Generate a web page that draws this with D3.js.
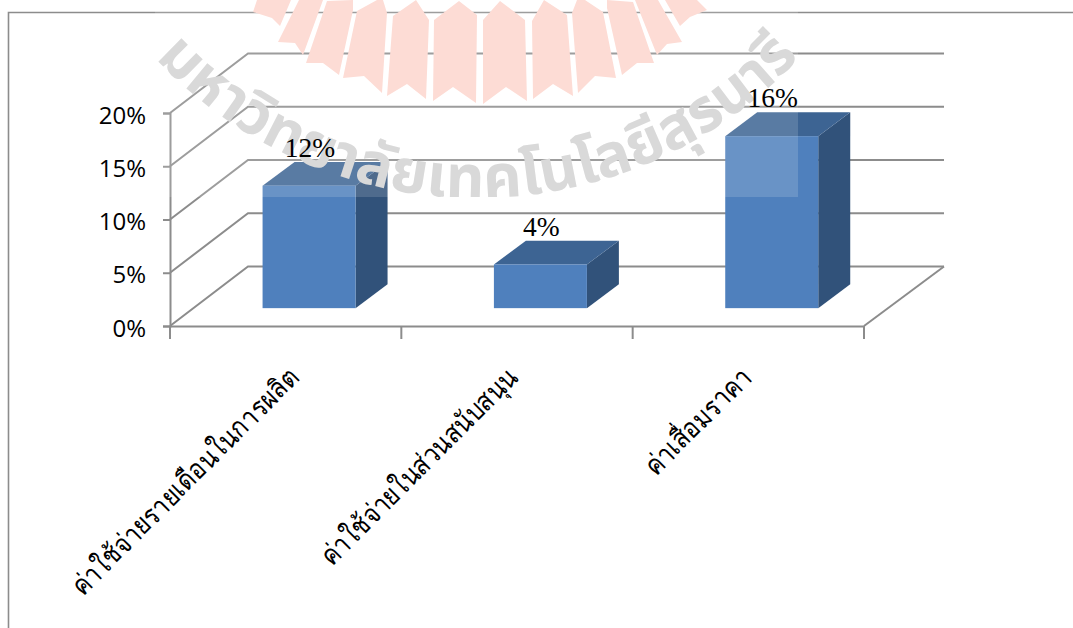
<!DOCTYPE html>
<html><head><meta charset="utf-8">
<script src="https://cdn.jsdelivr.net/npm/d3@7"></script>
<style>html,body{margin:0;padding:0;background:#fff;overflow:hidden}svg{display:block}</style>
</head><body><svg id="c" width="1073" height="628"></svg>
<script>
const categories = ["ค่าใช้จ่ายรายเดือนในการผลิต","ค่าใช้จ่ายในส่วนสนับสนุน","ค่าเสื่อมราคา"];
const values = [0.115, 0.041, 0.1615];
const valueLabels = ["12%","4%","16%"];
const yTicks = [0,0.05,0.10,0.15,0.20];
const watermarkText = "มหาวิทยาลัยเทคโนโลยีสุรนารี";

const W=1073,H=628, gray="#8c8c8c";
const svg=d3.select("#c");
const x=d3.scaleBand().domain(categories).range([170,864]).paddingInner(0).paddingOuter(0);
const y=d3.scaleLinear().domain([0,0.2]).range([326,113]);
const DX=78, DY=-59.5;           // wall depth
const barDepth=0.3, barDepthEnd=0.7;

// frame
svg.append("path").attr("d",`M8.5,628V12.5H${W}`).attr("fill","none").attr("stroke",gray).attr("stroke-width",1.6);

// grid: floor / side wall / back wall
const grid=svg.append("g").attr("fill","none").attr("stroke",gray).attr("stroke-width",2);
grid.selectAll("path").data(yTicks).join("path")
  .attr("d",t=>`M170,${y(t)}L${170+DX},${y(t)+DY}H944`);
grid.append("path").attr("d",`M864,326L944,${326+DY}`);

// axes
const gy=svg.append("g").attr("transform","translate(170,0)")
  .call(d3.axisLeft(y).tickValues(yTicks).tickFormat(d3.format(".0%")).tickSize(7).tickPadding(17));
const gx=svg.append("g").attr("transform","translate(0,326)")
  .call(d3.axisBottom(x).tickSize(0).tickFormat(""));
gx.selectAll(".tick").remove();
gx.selectAll(".ct").data([...categories.map(c=>x(c)),864]).join("line").attr("class","ct")
  .attr("x1",d=>d).attr("x2",d=>d).attr("y1",0).attr("y2",13);
svg.selectAll(".domain,.tick line,.ct").attr("stroke",gray).attr("stroke-width",2);
gy.selectAll("text").attr("fill","#000").attr("dy","0.42em").style("font","24px 'Open Sans','Noto Sans',sans-serif");

// bars
const bw=x.bandwidth()*0.402, ox=barDepth*DX, oy=barDepth*DY, dx=(barDepthEnd-barDepth)*DX+0.8, dy=(barDepthEnd-barDepth)*DY;
const bars=svg.append("g").selectAll("g").data(values).join("g");
const bl=(v,i)=>x(categories[i])+x.bandwidth()/2-bw/2+ox;
bars.append("path").attr("fill","#31527a")
  .attr("d",(v,i)=>{const l=bl(v,i)+bw;return `M${l},${y(v)+oy}L${l+dx},${y(v)+oy+dy}V${y(0)+oy+dy}L${l},${y(0)+oy}Z`});
bars.append("path").attr("fill","#3d6493")
  .attr("d",(v,i)=>{const l=bl(v,i);return `M${l},${y(v)+oy}L${l+dx},${y(v)+oy+dy}H${l+bw+dx}L${l+bw},${y(v)+oy}Z`});
bars.append("rect").attr("fill","#4f80bd")
  .attr("x",(v,i)=>bl(v,i)).attr("y",v=>y(v)+oy).attr("width",bw).attr("height",v=>y(0)-y(v));

// category labels
const labelShift=[7,-5,-3];
svg.append("g").selectAll("text").data(categories).join("text")
  .attr("transform",(c,i)=>`translate(${x(c)+x.bandwidth()/2+8+labelShift[i]},${379}) rotate(-45) scale(0.85,1)`)
  .attr("text-anchor","end").attr("font-size",28)
  .style("font-family","'Liberation Serif',serif")
  .text(c=>c);

// watermark overlay
const defs=svg.append("defs");
defs.append("clipPath").attr("id","wm").append("rect").attr("x",155).attr("y",0).attr("width",643).attr("height",197);
defs.append("path").attr("id","arc").attr("d","M96,-22A440,440 0 0 0 858,-22");
const sealPetals=[
 [[257,0],[291,0],[280,26],[272,18],[253,12]],
 [[299,0],[278,42],[295,43],[303,55],[323,0]],
 [[327,1],[306,63],[323,63],[339,75],[353,10],[353,0]],
 [[357,11],[377,0],[383,0],[387,13],[382,93],[364,76],[343,78]],
 [[393,16],[416,0],[429,20],[426,99],[407,84],[387,96]],
 [[434,20],[459,1],[477,15],[476,103],[453,87],[433,101]],
 [[483,20],[500,1],[525,20],[527,101],[506,87],[483,104]],
 [[532,21],[544,0],[567,15],[573,96],[553,84],[533,99]],
 [[572,13],[577,0],[585,0],[603,12],[616,78],[595,76],[578,93]],
 [[607,8],[607,0],[633,2],[654,63],[637,63],[622,75]],
 [[635,0],[658,0],[682,42],[667,44],[657,55]],
 [[665,0],[697,0],[707,10],[690,17],[680,26]]
];
const ov=svg.append("g").attr("clip-path","url(#wm)");
ov.append("rect").attr("x",155).attr("y",0).attr("width",643).attr("height",197).attr("fill","#fff").attr("opacity",0.15);
const mul=ov.append("g").style("mix-blend-mode","multiply");
mul.selectAll("polygon").data(sealPetals).join("polygon").attr("points",d=>d.join(" ")).attr("fill","#fddcd5");
mul.append("text").attr("font-size",60).attr("font-weight",700).attr("fill","#d9d9d9")
  .style("font-family","'Noto Sans Thai','Noto Sans','DejaVu Sans',sans-serif")
  .append("textPath").attr("href","#arc").attr("startOffset",100).text(watermarkText);

// data labels
svg.append("g").selectAll("text").data(values).join("text")
  .attr("x",(v,i)=>bl(v,i)+bw/2+1).attr("y",v=>y(v)+oy+dy-5)
  .attr("text-anchor","middle").attr("font-size",27.5).attr("fill","#000")
  .style("font-family","'Liberation Serif',serif")
  .text((v,i)=>valueLabels[i]);
</script></body></html>
